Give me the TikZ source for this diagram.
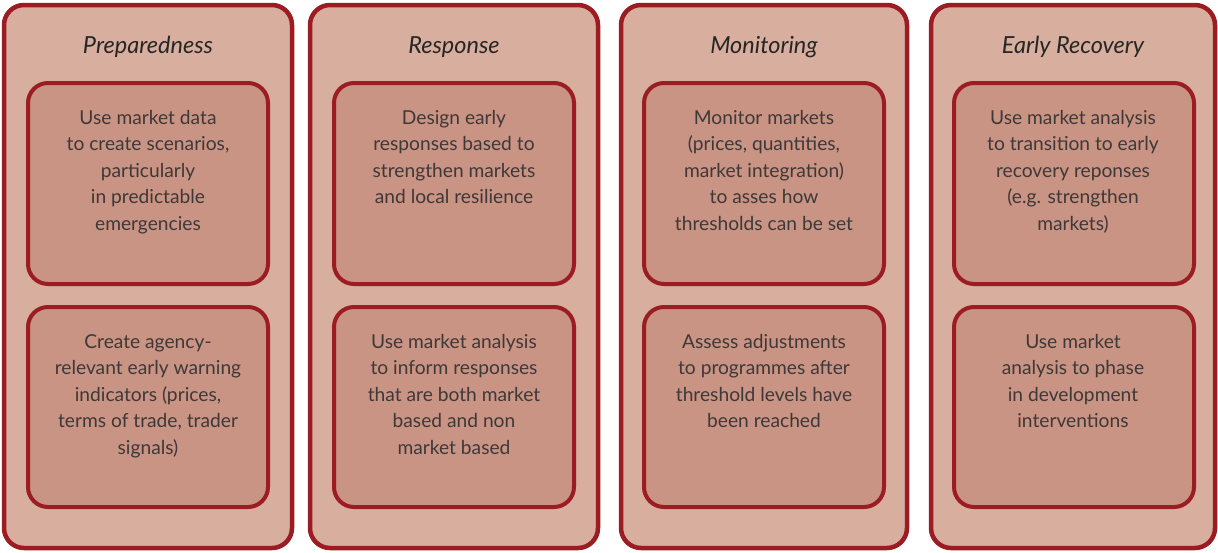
\documentclass[tikz,border=0pt]{standalone}
\usepackage{fontspec}
\setmainfont{Lato}
\definecolor{edge}{HTML}{9B1C22}
\definecolor{outerfill}{HTML}{D8AE9E}
\definecolor{innerfill}{HTML}{C99483}
\definecolor{txt}{HTML}{3E3838}
\begin{document}
\begin{tikzpicture}[x=1pt,y=-1pt,
  outerbox/.style={draw=edge,fill=outerfill,line width=4.5pt,rounded corners=20pt},
  innerbox/.style={draw=edge,fill=innerfill,line width=4pt,rounded corners=20pt},
  title/.style={font=\fontsize{23.5}{28}\selectfont\itshape,text=black!85,anchor=base},
  body/.style={font=\fontsize{19.2}{26.5}\selectfont,text=txt,align=center,anchor=north,inner sep=0pt}]
\useasboundingbox (0,0) rectangle (1218,552);
% columns
\foreach \n/\l/\r in {1/4/292, 2/310/598, 3/621/907, 4/931/1215}{
  \draw[outerbox] (\l,5) rectangle (\r,548);
}
\foreach \n/\l/\r in {1/28/268, 2/334/574, 3/644/884, 4/954/1194}{
  \draw[innerbox] (\l,83) rectangle (\r,284);
  \draw[innerbox] (\l,307) rectangle (\r,507);
}
\node[title] (t1) at (148,53) {Preparedness};
\node[title] (t2) at (454,53) {Response};
\node[title] (t3) at (764,53) {Monitoring};
\node[title] (t4) at (1073,53) {Early Recovery};

\node[body] (a1) at (148,110) {Use market data\\to create scenarios,\\particularly\\in predictable\\emergencies};
\node[body] (b1) at (148,334) {Create agency-\\relevant early warning\\indicators (prices,\\terms of trade, trader\\signals)};
\node[body] (a2) at (454,110) {Design early\\responses based to\\strengthen markets\\and local resilience};
\node[body] (b2) at (454,334) {Use market analysis\\to inform responses\\that are both market\\based and non\\market based};
\node[body] (a3) at (764,110) {Monitor markets\\(prices, quantities,\\market integration)\\to asses how\\thresholds can be set};
\node[body] (b3) at (764,334) {Assess adjustments\\to programmes after\\threshold levels have\\been reached};
\node[body] (a4) at (1073,110) {Use market analysis\\to transition to early\\recovery reponses\\(e.g. strengthen\\markets)};
\node[body] (b4) at (1073,334) {Use market\\analysis to phase\\in development\\interventions};
\end{tikzpicture}
\end{document}
